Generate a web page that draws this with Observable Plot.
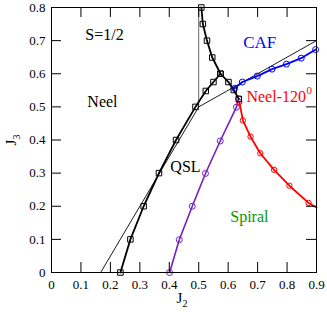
<!DOCTYPE html>
<html>
<head>
<meta charset="utf-8">
<script src="https://cdn.jsdelivr.net/npm/d3@7"></script>
<script src="https://cdn.jsdelivr.net/npm/@observablehq/plot@0.6"></script>
<style>
  html, body { margin: 0; padding: 0; background: #fff; }
  #chart { width: 327px; height: 315px; }
</style>
</head>
<body>
<div id="chart"></div>
<script>
// Tick values
const xTicks = [0, 0.1, 0.2, 0.3, 0.4, 0.5, 0.6, 0.7, 0.8, 0.9];
const yTicks = [0, 0.1, 0.2, 0.3, 0.4, 0.5, 0.6, 0.7, 0.8];

// QSL/Neel boundary (black squares), lower branch
const qslLowerJ2 = [0.234, 0.268, 0.313, 0.365, 0.423, 0.489, 0.524, 0.55, 0.574];
const qslLowerJ3 = [0, 0.1, 0.2, 0.3, 0.4, 0.5, 0.548, 0.575, 0.6];
// black squares, upper branch
const qslUpperJ2 = [0.509, 0.514, 0.528, 0.546, 0.574, 0.601, 0.619, 0.636];
const qslUpperJ3 = [0.8, 0.75, 0.7, 0.649, 0.6, 0.575, 0.551, 0.524];
// thin classical boundaries
const classicJ2 = [0.167, 0.5, 0.9];
const classicJ3 = [0, 0.5, 0.7];
const vertJ2 = [0.5, 0.5];
const vertJ3 = [0.5, 0.8];
// CAF boundary (blue circles)
const cafJ2 = [0.622, 0.648, 0.699, 0.749, 0.798, 0.848, 0.897];
const cafJ3 = [0.556, 0.575, 0.593, 0.614, 0.629, 0.647, 0.673];
// Neel-120 / Spiral boundary (red)
const redJ2 = [0.638, 0.65, 0.676, 0.709, 0.756, 0.808, 0.873, 0.9];
const redJ3 = [0.515, 0.459, 0.41, 0.36, 0.31, 0.262, 0.21, 0.196];
// QSL / Spiral boundary (purple circles)
const purpJ2 = [0.401, 0.434, 0.478, 0.523, 0.573, 0.628, 0.636];
const purpJ3 = [0, 0.099, 0.2, 0.299, 0.397, 0.499, 0.524];

const zip = (xs, ys) => xs.map((x, i) => ({x, y: ys[i]}));
const qslLower = zip(qslLowerJ2, qslLowerJ3);
const qslUpper = zip(qslUpperJ2, qslUpperJ3);
const classic = zip(classicJ2, classicJ3);
const vert = zip(vertJ2, vertJ3);
const caf = zip(cafJ2, cafJ3);
const red = zip(redJ2, redJ3);
const purp = zip(purpJ2, purpJ3);

const font = "Liberation Serif, DejaVu Serif";
const purple = "#7221bc";

const plot = Plot.plot({
  width: 327,
  height: 315,
  marginLeft: 51,
  marginRight: 11,
  marginTop: 7,
  marginBottom: 43,
  style: {fontFamily: font, fontSize: "13px", background: "white", color: "black"},
  x: {domain: [0, 0.9], label: null},
  y: {domain: [0, 0.8], label: null},
  marks: [
    // thin lines
    Plot.line(classic, {x: "x", y: "y", stroke: "black", strokeWidth: 0.9}),
    Plot.line(vert, {x: "x", y: "y", stroke: "#555", strokeWidth: 0.9}),
    // purple
    Plot.line(purp, {x: "x", y: "y", stroke: purple, strokeWidth: 1.6}),
    Plot.dot(purp, {x: "x", y: "y", r: 3, stroke: purple, strokeWidth: 1}),
    // red
    Plot.line(red, {x: "x", y: "y", stroke: "#ff0000", strokeWidth: 1.8}),
    Plot.dot(red, {filter: d => d.x < 0.89, x: "x", y: "y", r: 2.7, stroke: "#ff0000", strokeWidth: 1}),
    // black
    Plot.line(qslLower, {x: "x", y: "y", stroke: "black", strokeWidth: 1.8}),
    Plot.line(qslUpper, {x: "x", y: "y", stroke: "black", strokeWidth: 1.8}),
    Plot.dot(qslLower, {x: "x", y: "y", symbol: "square", r: 3.1, stroke: "black", strokeWidth: 1}),
    Plot.dot(qslUpper, {x: "x", y: "y", symbol: "square", r: 3.1, stroke: "black", strokeWidth: 1}),
    // blue
    Plot.line(caf, {x: "x", y: "y", stroke: "#0000ff", strokeWidth: 1.8}),
    Plot.dot(caf, {x: "x", y: "y", r: 3, stroke: "#0000ff", strokeWidth: 1}),
    // frame and inward ticks on all four sides
    Plot.frame({stroke: "black", strokeWidth: 1}),
    Plot.tickX(xTicks, {x: d => d, insetTop: 255, stroke: "black"}),
    Plot.tickX(xTicks, {x: d => d, insetBottom: 255, stroke: "black"}),
    Plot.tickY(yTicks, {y: d => d, insetRight: 255, stroke: "black"}),
    Plot.tickY(yTicks, {y: d => d, insetLeft: 255, stroke: "black"}),
    Plot.axisX(xTicks, {tickSize: 0, tickPadding: 7, fontSize: 13, tickFormat: d => String(d), label: null}),
    Plot.axisY(yTicks, {tickSize: 0, tickPadding: 6, fontSize: 13, tickFormat: d => String(d), label: null}),
    // region labels
    Plot.text(["S=1/2"], {x: 0.18, y: 0.716, text: d => d, fontSize: 16, fill: "black"}),
    Plot.text(["Neel"], {x: 0.173, y: 0.516, text: d => d, fontSize: 16, fill: "black"}),
    Plot.text(["QSL"], {x: 0.455, y: 0.32, text: d => d, fontSize: 16, fill: "black"}),
    Plot.text(["CAF"], {x: 0.707, y: 0.694, text: d => d, fontSize: 17, fill: "#0000ff"}),
    Plot.text(["Neel-120"], {x: 0.662, y: 0.53, text: d => d, fontSize: 16, fill: "#ff0000", textAnchor: "start"}),
    Plot.text(["0"], {x: 0.662, y: 0.53, dx: 60, dy: -6, text: d => d, fontSize: 11, fill: "#ff0000", textAnchor: "start"}),
    Plot.text(["Spiral"], {x: 0.672, y: 0.169, text: d => d, fontSize: 16, fill: "#009a00"})
  ]
});

document.getElementById("chart").appendChild(plot);

// Axis titles with subscripts
const svg = d3.select(plot);
const xt = svg.append("text")
  .attr("x", 182).attr("y", 303)
  .attr("font-family", font).attr("font-size", 15).attr("fill", "black")
  .attr("text-anchor", "middle");
xt.append("tspan").text("J");
xt.append("tspan").attr("font-size", 10).attr("dy", 4).text("2");

const yt = svg.append("text")
  .attr("transform", "translate(16,140) rotate(-90)")
  .attr("font-family", font).attr("font-size", 15).attr("fill", "black")
  .attr("text-anchor", "middle");
yt.append("tspan").text("J");
yt.append("tspan").attr("font-size", 10).attr("dy", 4).text("3");
</script>
</body>
</html>
